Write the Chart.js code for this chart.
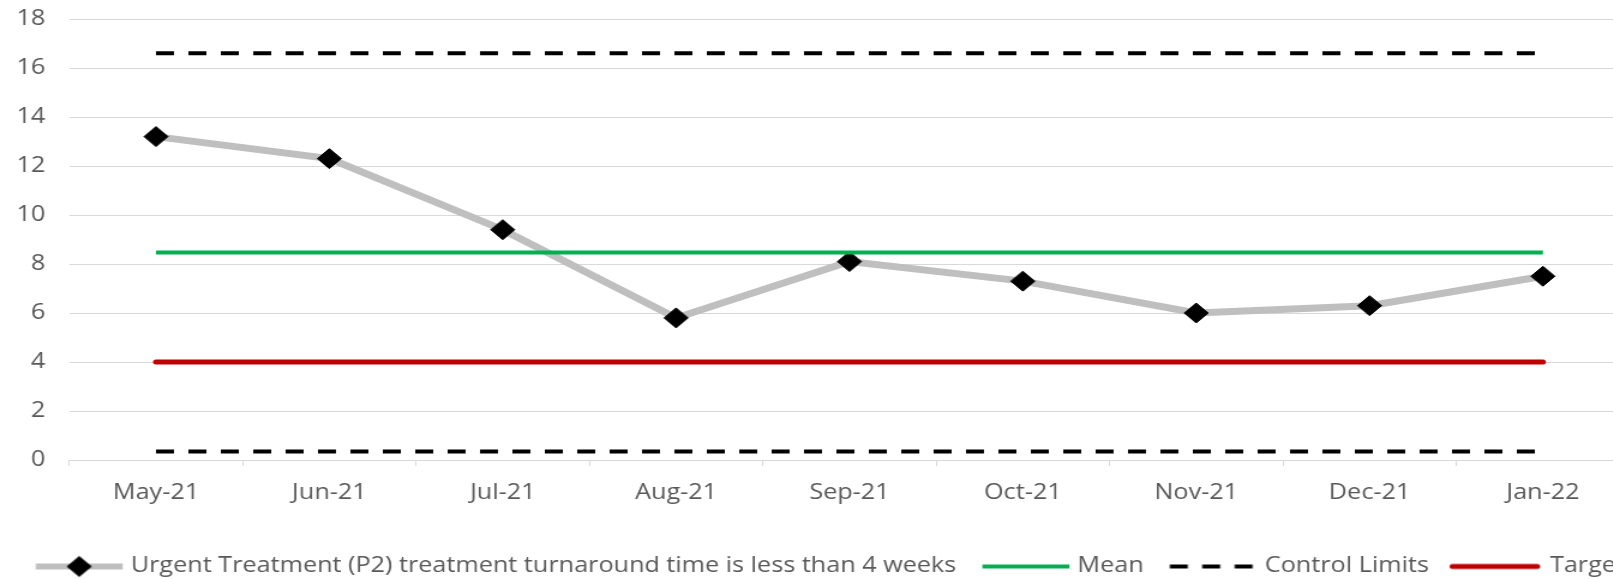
<!DOCTYPE html>
<html>
<head>
<meta charset="utf-8">
<title>Urgent Treatment (P2) turnaround</title>
<script src="https://cdn.jsdelivr.net/npm/chart.js@4/dist/chart.umd.min.js"></script>
<style>
  html, body { margin: 0; padding: 0; background: #ffffff; width: 1613px; height: 579px; overflow: hidden; }
  #wrap { position: absolute; left: 0; top: 0; }
  canvas { display: block; }
</style>
</head>
<body>
<div id="wrap"><canvas id="spc"></canvas></div>
<script>
// ---- data ----
const months = ['May-21', 'Jun-21', 'Jul-21', 'Aug-21', 'Sep-21', 'Oct-21', 'Nov-21', 'Dec-21', 'Jan-22'];
const turnaround = [13.2, 12.3, 9.4, 5.8, 8.1, 7.3, 6.0, 6.3, 7.5];
const meanLine = [8.47, 8.47, 8.47, 8.47, 8.47, 8.47, 8.47, 8.47, 8.47];
const upperLimit = [16.6, 16.6, 16.6, 16.6, 16.6, 16.6, 16.6, 16.6, 16.6];
const lowerLimit = [0.35, 0.35, 0.35, 0.35, 0.35, 0.35, 0.35, 0.35, 0.35];
const targetLine = [4, 4, 4, 4, 4, 4, 4, 4, 4];
const seriesNames = [
  'Urgent Treatment (P2) treatment turnaround time is less than 4 weeks',
  'Mean',
  'Control Limits',
  'Control Limits',
  'Target'
];
const yMin = 0, yMax = 18, yStep = 2;

// ---- drawing surface (drawn narrow, displayed wide) ----
const STRETCH = 1.2;
const W = 1400, H = 579;
const canvas = document.getElementById('spc');
canvas.width = W;
canvas.height = H;
canvas.style.width = (W * STRETCH) + 'px';
canvas.style.height = H + 'px';

const TEXT = '#595959';
const GRID = '#D9D9D9';
const FONT = "'Open Sans', 'Liberation Sans', sans-serif";
const FS = 21;

Chart.defaults.font.family = FONT;
Chart.defaults.font.size = FS;
Chart.defaults.color = TEXT;

// ---- legend symbols ----
const LP = 4;             // legend label padding
const GAP_BEFORE = 21.75; // space between previous text and a symbol
const SYM_W = 72.5;       // symbol length
const TEXT_GAP = 6.7;     // symbol to text
const DL = GAP_BEFORE - LP;
const PW = DL + SYM_W + TEXT_GAP - FS / 2;
const IMG_W = 100, IMG_H = 26;

function makeSymbol(kind) {
  const c = document.createElement('canvas');
  c.width = IMG_W; c.height = IMG_H;
  const g = c.getContext('2d');
  const cx = IMG_W / 2, cy = IMG_H / 2;
  const x0 = cx + DL - PW / 2;
  const x1 = x0 + SYM_W;
  g.beginPath();
  if (kind === 'series') {
    g.strokeStyle = '#BFBFBF'; g.lineWidth = 6; g.lineCap = 'butt';
    g.moveTo(x0, cy); g.lineTo(x1, cy); g.stroke();
    const mx = (x0 + x1) / 2, r = 10.5;
    g.beginPath();
    g.moveTo(mx, cy - r); g.lineTo(mx + r, cy); g.lineTo(mx, cy + r); g.lineTo(mx - r, cy); g.closePath();
    g.fillStyle = '#000'; g.fill();
  } else if (kind === 'mean') {
    g.strokeStyle = '#00B050'; g.lineWidth = 4;
    g.moveTo(x0, cy); g.lineTo(x1, cy); g.stroke();
  } else if (kind === 'limits') {
    g.strokeStyle = '#000'; g.lineWidth = 4; g.setLineDash([15, 12]);
    g.moveTo(x0, cy); g.lineTo(x1, cy); g.stroke();
  } else if (kind === 'target') {
    g.strokeStyle = '#C00000'; g.lineWidth = 5; g.lineCap = 'round';
    g.moveTo(x0 - 2, cy); g.lineTo(x1 - 4, cy); g.stroke();
  }
  return c;
}
const symbols = [makeSymbol('series'), makeSymbol('mean'), makeSymbol('limits'), makeSymbol('limits'), makeSymbol('target')];

// ---- chart ----
new Chart(canvas.getContext('2d'), {
  type: 'line',
  data: {
    labels: months,
    datasets: [
      {
        label: seriesNames[0], data: turnaround,
        borderColor: '#BFBFBF', borderWidth: 7, tension: 0,
        pointStyle: 'rectRot', pointRadius: 10, pointHoverRadius: 10,
        pointBackgroundColor: '#000', pointBorderColor: '#000', pointBorderWidth: 1,
        order: 1
      },
      {
        label: seriesNames[1], data: meanLine,
        borderColor: '#00B050', borderWidth: 4, pointRadius: 0, pointHoverRadius: 0,
        order: 0
      },
      {
        label: seriesNames[2], data: upperLimit,
        borderColor: '#000000', borderWidth: 4, borderDash: [15, 12], borderCapStyle: 'butt',
        pointRadius: 0, pointHoverRadius: 0, order: 2
      },
      {
        label: seriesNames[3], data: lowerLimit,
        borderColor: '#000000', borderWidth: 4, borderDash: [15, 12], borderCapStyle: 'butt',
        pointRadius: 0, pointHoverRadius: 0, order: 2
      },
      {
        label: seriesNames[4], data: targetLine,
        borderColor: '#C00000', borderWidth: 5, borderCapStyle: 'round',
        pointRadius: 0, pointHoverRadius: 0, order: 3
      }
    ]
  },
  options: {
    responsive: false,
    animation: false,
    devicePixelRatio: 1,
    events: [],
    layout: { padding: { top: 19, left: 8, right: 0, bottom: -8 } },
    plugins: {
      tooltip: { enabled: false },
      legend: {
        position: 'bottom',
        align: 'start',
        fullSize: true,
        labels: {
          usePointStyle: true,
          pointStyleWidth: PW,
          padding: LP,
          color: TEXT,
          font: { size: FS, family: FONT },
          generateLabels(chart) {
            const items = Chart.defaults.plugins.legend.labels.generateLabels(chart);
            items.forEach(it => { it.pointStyle = symbols[it.datasetIndex]; it.rotation = 0; });
            return items.filter(it => it.datasetIndex !== 3);
          },
          sort: (a, b) => a.datasetIndex - b.datasetIndex
        }
      }
    },
    scales: {
      x: {
        type: 'category',
        offset: true,
        grid: { offset: true, drawOnChartArea: false, drawTicks: true, tickLength: 6, color: GRID, lineWidth: 1 },
        border: { display: true, color: GRID, width: 1 },
        ticks: { color: TEXT, font: { size: FS, family: FONT }, padding: 14, maxRotation: 0, autoSkip: false },
        afterFit(scale) { scale.height = 92; }
      },
      y: {
        type: 'linear',
        min: yMin, max: yMax,
        ticks: { stepSize: yStep, color: TEXT, font: { size: FS, family: FONT }, padding: 20 },
        grid: { color: GRID, lineWidth: 1, drawTicks: false },
        border: { display: false },
        afterFit(scale) {
          scale.width = 49.75;
          scale.paddingTop = 0;
          scale.paddingBottom = 0;
        }
      },
      yRight: {
        type: 'linear',
        position: 'right',
        display: true,
        grid: { display: false, drawTicks: false },
        ticks: { display: false },
        border: { display: false },
        afterFit(scale) { scale.width = 42; }
      }
    }
  }
});
</script>
</body>
</html>
